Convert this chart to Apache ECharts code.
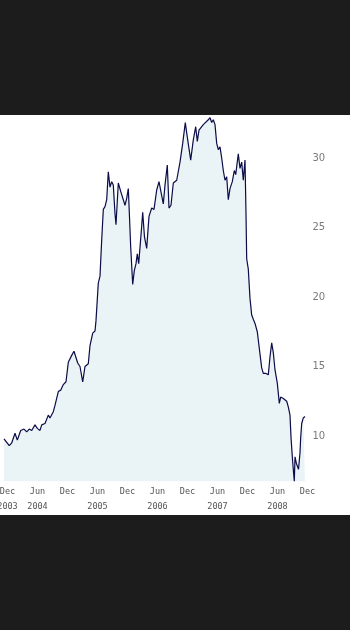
<!DOCTYPE html>
<html>
<head>
<meta charset="utf-8">
<script src="https://cdn.jsdelivr.net/npm/echarts@6/dist/echarts.min.js"></script>
<style>
html, body { margin: 0; padding: 0; width: 350px; height: 630px; background: #1c1c1c; overflow: hidden; }
#band { position: absolute; left: 0; top: 115px; width: 350px; height: 400px; background: #ffffff; }
/* canvas pushed 30px left so the axis can start half a year before Dec 2003 */
#chart { position: absolute; left: -30px; top: 0; width: 380px; height: 630px; }
</style>
</head>
<body>
<div id="band"></div>
<div id="chart"></div>
<script>
// months since Dec 2003
const months = [
    -0.7, 0.36, 0.84, 1.5, 1.96, 2.64, 3.3, 3.84, 4.36, 4.84, 5.5, 5.96, 6.5, 6.84, 7.5,
    8.16, 8.5, 9.16, 9.5, 10.16, 10.64, 11.16, 11.7, 12.16, 12.84, 13.3, 13.7, 14.04, 14.5,
    15.04, 15.5, 16.16, 16.5, 17.04, 17.5, 17.7, 18.16, 18.5, 18.84, 19.16, 19.5, 19.84,
    20.16, 20.5, 20.84, 21.16, 21.5, 21.7, 22.16, 22.64, 23.16, 23.5, 23.84, 24.16, 24.36,
    24.64, 25.04, 25.36, 25.7, 25.96, 26.24, 26.5, 26.84, 27.04, 27.4, 27.84, 28.3, 28.84,
    29.3, 29.84, 30.3, 30.84, 31.16, 31.5, 31.96, 32.3, 32.7, 33.16, 33.84, 34.5, 35.04,
    35.56, 35.96, 36.64, 37.16, 37.64, 37.96, 38.3, 39.16, 40.16, 40.5, 40.84, 41.16, 41.5,
    41.84, 42.16, 42.5, 42.84, 43.16, 43.5, 43.84, 44.16, 44.5, 44.96, 45.36, 45.64, 46.16,
    46.5, 46.84, 47.16, 47.5, 47.7, 47.84, 48.16, 48.5, 48.84, 49.16, 49.5, 49.96, 50.36,
    50.84, 51.16, 51.7, 52.16, 52.5, 52.84, 53.16, 53.5, 53.96, 54.36, 54.64, 55.16, 55.84,
    56.16, 56.5, 56.7, 57.0, 57.16, 57.36, 57.5, 57.8, 58.2, 58.5, 58.64, 58.84, 59.16, 59.5
];
const prices = [
    9.8, 9.3, 9.5, 10.2, 9.7, 10.4, 10.5, 10.3, 10.5, 10.4, 10.8, 10.55, 10.4, 10.8, 10.9,
    11.5, 11.3, 11.75, 12.2, 13.2, 13.3, 13.7, 13.9, 15.3, 15.8, 16.1, 16.2, 15.25, 15.0,
    13.9, 15.0, 15.2, 16.5, 17.4, 17.55, 18.3, 21.0, 21.5, 24.1, 26.3, 26.5, 27.0,
    29.0, 27.9, 28.3, 28.05, 26.0, 25.2, 28.2, 27.6, 27.0, 26.6, 27.1, 27.8, 26.1,
    23.6, 20.9, 21.9, 22.4, 23.1, 22.4, 22.4, 25.1, 26.1, 24.3, 23.5, 25.8, 26.4,
    26.3, 27.7, 28.3, 27.3, 26.7, 28.05, 29.5, 26.4, 26.6, 28.2, 28.4, 29.7, 31.05,
    32.55, 31.5, 29.85, 31.3, 32.25, 31.2, 32.0, 32.4, 32.75, 32.9, 32.55, 32.75, 32.4,
    31.05, 30.6, 30.8, 30.0, 29.1, 28.4, 28.65, 27.0, 27.8, 28.3, 29.1, 28.8, 30.3,
    29.25, 29.7, 28.4, 29.85, 26.0, 22.75, 22.0, 19.9, 18.7, 18.4, 18.1, 17.5, 16.3,
    14.9, 14.5, 14.5, 14.4, 15.7, 16.7, 16.0, 14.75, 13.8, 12.35, 12.8, 12.7, 12.5,
    12.1, 11.5, 9.9, 8.3, 7.6, 6.75, 8.5, 8.0, 7.6, 8.8, 9.9, 10.9, 11.3, 11.4
];
const xTickLabels = ['Dec\n2003', 'Jun\n2004', 'Dec', 'Jun\n2005', 'Dec', 'Jun\n2006',
    'Dec', 'Jun\n2007', 'Dec', 'Jun\n2008', 'Dec'];
const yTicks = [10, 15, 20, 25, 30];

const chart = echarts.init(document.getElementById('chart'));

const option = {
    backgroundColor: 'transparent',
    animation: false,
    grid: { left: 7.5, right: 42.5, top: 88.5, bottom: 124.5 },
    xAxis: {
        type: 'value',
        min: -6,
        max: 60,
        interval: 6,
        offset: -21.75,
        axisLine: { show: false },
        axisTick: { show: false },
        splitLine: { show: false },
        axisLabel: {
            margin: 0,
            showMaxLabel: true,
            color: '#555',
            fontFamily: 'DejaVu Sans Mono',
            fontSize: 8.5,
            lineHeight: 15.5,
            formatter: (v) => (v < 0 ? '' : xTickLabels[Math.round(v / 6)] || '')
        }
    },
    yAxis: {
        type: 'value',
        position: 'right',
        min: 5,
        max: 35,
        interval: 5,
        axisLine: { show: false },
        axisTick: { show: false },
        splitLine: { show: false },
        axisLabel: {
            margin: 5,
            color: '#7a7a7a',
            fontFamily: 'DejaVu Sans',
            fontSize: 10,
            formatter: (v) => (yTicks.includes(v) ? String(v) : '')
        }
    },
    series: [
        {
            type: 'line',
            data: months.map((m, i) => [m, prices[i]]),
            showSymbol: false,
            symbol: 'none',
            lineStyle: { color: '#0c0c48', width: 1.2 },
            areaStyle: { color: '#eaf3f6', opacity: 1, origin: 6.75 }
        }
    ]
};

chart.setOption(option);
</script>
</body>
</html>
